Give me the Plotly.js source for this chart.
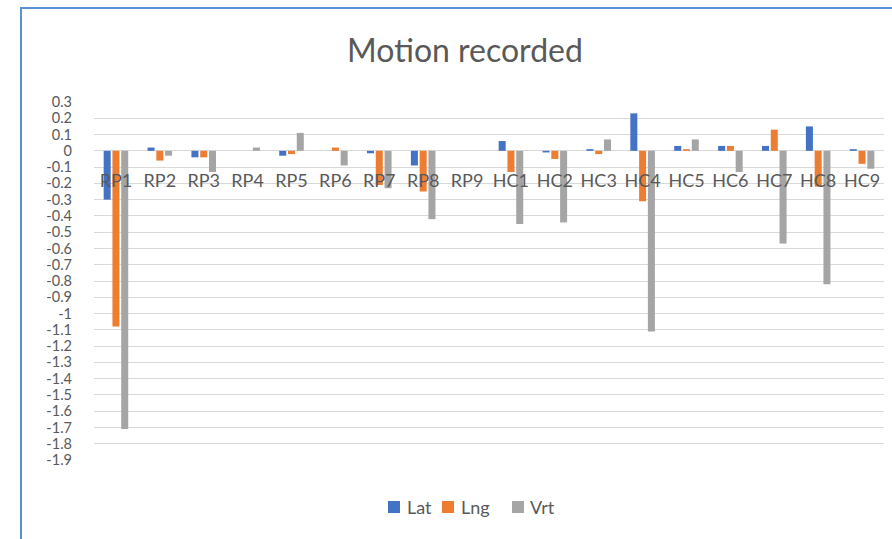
<!DOCTYPE html>
<html>
<head>
<meta charset="utf-8">
<script src="https://cdn.plot.ly/plotly-3.0.1.min.js"></script>
<style>
  html, body { margin: 0; padding: 0; background: #fff; }
  #wrap { position: relative; width: 892px; height: 539px; overflow: hidden; }
  #chart { position: absolute; left: 0; top: 0; width: 892px; height: 539px; }
  #frame { position: absolute; left: 20px; top: 7px; width: 880px; height: 540px;
           border-left: 2px solid #5b8fd6; border-top: 2px solid #5b8fd6; pointer-events: none; }
</style>
</head>
<body>
<div id="wrap">
  <div id="chart"></div>
  <div id="frame"></div>
</div>
<script>
const categories = ['RP1','RP2','RP3','RP4','RP5','RP6','RP7','RP8','RP9',
                    'HC1','HC2','HC3','HC4','HC5','HC6','HC7','HC8','HC9'];
const lat = [-0.30, 0.02, -0.04, 0, -0.03, 0, -0.015, -0.09, 0,
             0.06, -0.01, 0.01, 0.23, 0.03, 0.03, 0.03, 0.15, 0.01];
const lng = [-1.08, -0.06, -0.04, 0, -0.02, 0.02, -0.21, -0.25, 0,
             -0.13, -0.05, -0.02, -0.31, 0.01, 0.03, 0.13, -0.22, -0.08];
const vrt = [-1.71, -0.03, -0.13, 0.02, 0.11, -0.09, -0.23, -0.42, 0,
             -0.45, -0.44, 0.07, -1.11, 0.07, -0.13, -0.57, -0.82, -0.11];
const seriesNames = ['Lat', 'Lng', 'Vrt'];
const yTicks = [0.3, 0.2, 0.1, 0, -0.1, -0.2, -0.3, -0.4, -0.5, -0.6, -0.7, -0.8, -0.9,
                -1, -1.1, -1.2, -1.3, -1.4, -1.5, -1.6, -1.7, -1.8, -1.9];
const yTickText = ['0.3','0.2','0.1','0','-0.1','-0.2','-0.3','-0.4','-0.5','-0.6','-0.7','-0.8','-0.9',
                   '-1','-1.1','-1.2','-1.3','-1.4','-1.5','-1.6','-1.7','-1.8','-1.9'];

const colors = ['#4472c4', '#ed7d31', '#a5a5a5'];
const values = [lat, lng, vrt];
const yMin = -1.9, yMax = 0.3;

const W = 892, H = 539;
const M = { l: 94, r: 8, t: 102, b: 79 };
const plotW = W - M.l - M.r, plotH = H - M.t - M.b;
const px2paperX = px => (px - M.l) / plotW;
const py2paperY = py => (H - M.b - py) / plotH;

const traces = values.map((v, i) => ({
  type: 'bar',
  name: seriesNames[i],
  x: categories,
  y: v,
  marker: { color: colors[i] },
  hoverinfo: 'skip',
  showlegend: false
}));

const FONT = 'Lato, "Open Sans", sans-serif';

// custom legend (Excel-style compact spacing)
const legendSquareX = [394, 448, 518];
const legendTextX = [405, 459, 528];
const legendY = 507;
const SQ = 6;
const shapes = seriesNames.map((n, i) => ({
  type: 'rect', xref: 'paper', yref: 'paper',
  x0: px2paperX(legendSquareX[i] - SQ), x1: px2paperX(legendSquareX[i] + SQ),
  y0: py2paperY(legendY + SQ), y1: py2paperY(legendY - SQ),
  fillcolor: colors[i], line: { width: 0 }
}));
const annotations = seriesNames.map((n, i) => ({
  text: n, showarrow: false, xref: 'paper', yref: 'paper',
  x: px2paperX(legendTextX[i]), y: py2paperY(legendY),
  xanchor: 'left', yanchor: 'middle',
  font: { family: FONT, size: 18, color: '#595959' }
}));

const layout = {
  width: W,
  height: H,
  paper_bgcolor: '#ffffff',
  plot_bgcolor: '#ffffff',
  margin: M,
  title: {
    text: 'Motion recorded',
    font: { family: FONT, size: 32, color: '#595959' },
    x: 465 / W, xref: 'container', xanchor: 'center',
    y: 51, yref: 'container', yanchor: 'middle'
  },
  barmode: 'group',
  bargap: 0.4,
  bargroupgap: 0.2,
  showlegend: false,
  shapes: shapes,
  annotations: annotations,
  xaxis: {
    type: 'category',
    anchor: 'free',
    position: (0 - yMin) / (yMax - yMin),
    showline: false,
    showgrid: false,
    ticks: '',
    ticklabelstandoff: 17,
    tickfont: { family: FONT, size: 18, color: '#595959' },
    fixedrange: true
  },
  yaxis: {
    range: [yMin, yMax],
    tickvals: yTicks,
    ticktext: yTickText,
    showgrid: true,
    gridcolor: '#d9d9d9',
    gridwidth: 1,
    zeroline: true,
    zerolinecolor: '#d9d9d9',
    zerolinewidth: 1,
    showline: false,
    ticks: '',
    ticklabelstandoff: 21,
    tickfont: { family: FONT, size: 14.5, color: '#595959' },
    fixedrange: true
  }
};

Plotly.newPlot('chart', traces, layout, { displayModeBar: false, staticPlot: true });
</script>
</body>
</html>
